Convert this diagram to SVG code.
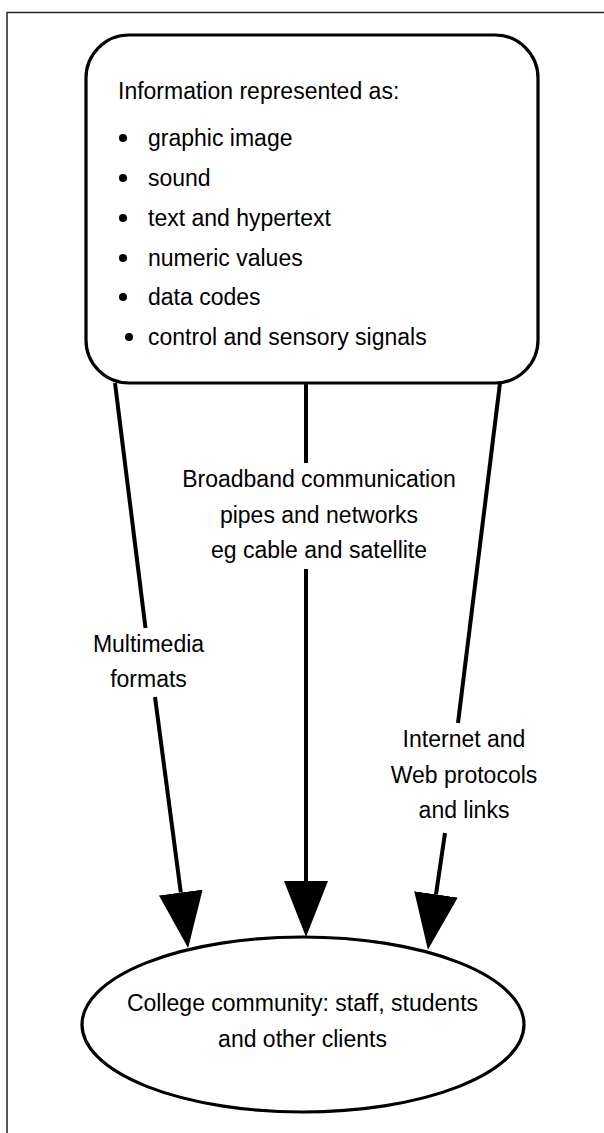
<svg xmlns="http://www.w3.org/2000/svg" width="604" height="1133" viewBox="0 0 604 1133">
<style>
text{font-family:"Liberation Sans",Arial,sans-serif;font-size:23px;fill:#000}
.mid{text-anchor:middle}
.shape{fill:#fff;stroke:#000;stroke-width:3.2}
.conn{stroke:#000;stroke-width:4;fill:none}
.frame{stroke:#222;stroke-width:1.5;fill:none}
</style>
<defs>
<marker id="arrow" markerUnits="userSpaceOnUse" viewBox="0 0 56 44" refX="0" refY="22" markerWidth="56" markerHeight="44" orient="auto">
<path d="M0,0 L56,22 L0,44 Z" fill="#000"/>
</marker>
</defs>
<rect width="604" height="1133" fill="#fff"/>
<path class="frame" d="M7,1133 V12.5 H604"/>
<g id="connectors">
<line class="conn" x1="115" y1="383" x2="145.5" y2="628"/>
<line class="conn" x1="155" y1="697" x2="180.8" y2="892.5" marker-end="url(#arrow)"/>
<line class="conn" x1="306" y1="383" x2="306" y2="463"/>
<line class="conn" x1="306" y1="569" x2="306" y2="881" marker-end="url(#arrow)"/>
<line class="conn" x1="500" y1="383" x2="458" y2="723"/>
<line class="conn" x1="445" y1="833" x2="436" y2="894.4" marker-end="url(#arrow)"/>
</g>
<g id="info">
<rect class="shape" x="86" y="35" width="452" height="348" rx="43" ry="43"/>
<text x="118" y="99">Information represented as:</text>
<g fill="#000">
<circle cx="123" cy="138" r="4"/>
<circle cx="123" cy="178" r="4"/>
<circle cx="123" cy="218" r="4"/>
<circle cx="123" cy="258" r="4"/>
<circle cx="123" cy="297" r="4"/>
<circle cx="129" cy="337" r="4"/>
</g>
<text x="148" y="146">graphic image</text>
<text x="148" y="186">sound</text>
<text x="148" y="226">text and hypertext</text>
<text x="148" y="266">numeric values</text>
<text x="148" y="305">data codes</text>
<text x="148" y="345">control and sensory signals</text>
</g>
<g id="label-multimedia">
<text class="mid" x="148.5" y="652">Multimedia</text>
<text class="mid" x="148.5" y="687">formats</text>
</g>
<g id="label-broadband">
<text class="mid" x="319" y="487">Broadband communication</text>
<text class="mid" x="319" y="523">pipes and networks</text>
<text class="mid" x="319" y="558">eg cable and satellite</text>
</g>
<g id="label-internet">
<text class="mid" x="464" y="747">Internet and</text>
<text class="mid" x="464" y="783">Web protocols</text>
<text class="mid" x="464" y="818">and links</text>
</g>
<g id="college">
<ellipse class="shape" cx="303" cy="1024.5" rx="221" ry="87.5"/>
<text class="mid" x="302.5" y="1011">College community: staff, students</text>
<text class="mid" x="302.5" y="1047">and other clients</text>
</g>
</svg>
